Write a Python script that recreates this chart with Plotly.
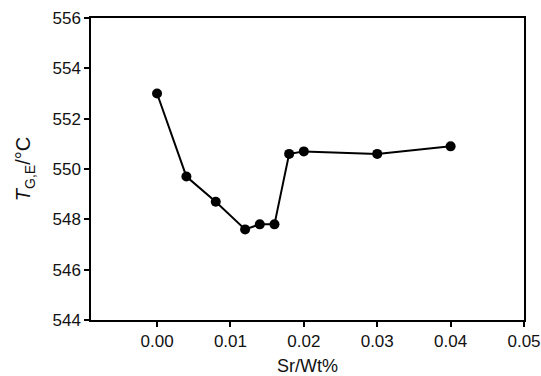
import plotly.graph_objects as go

sr = [0.000, 0.004, 0.008, 0.012, 0.014, 0.016, 0.018, 0.020, 0.030, 0.040]
temp = [553.0, 549.7, 548.7, 547.6, 547.8, 547.8, 550.6, 550.7, 550.6, 550.9]
x_ticks = [0.00, 0.01, 0.02, 0.03, 0.04, 0.05]
y_ticks = [544, 546, 548, 550, 552, 554, 556]

fig = go.Figure(go.Scatter(
    x=sr, y=temp, mode="lines+markers",
    line=dict(color="black", width=2),
    marker=dict(color="black", size=10),
))

fam = "Liberation Sans, Arial, sans-serif"
txt = "#111111"
fig.update_layout(
    width=541, height=376,
    margin=dict(l=91, r=17, t=18, b=56, autoexpand=False),
    paper_bgcolor="white", plot_bgcolor="white",
    showlegend=False, font=dict(family=fam, color=txt, size=17),
)
fig.update_xaxes(
    range=[-0.009, 0.05], tickvals=x_ticks, ticktext=[f"{v:.2f}" for v in x_ticks],
    ticks="outside", ticklen=5, tickwidth=1.5, tickcolor="black",
    showline=True, linecolor="black", linewidth=1.5, mirror=True, automargin=False,
    showgrid=False, zeroline=False, tickfont=dict(family=fam, size=17, color=txt),
    title=dict(text="Sr/Wt%", standoff=16, font=dict(family=fam, size=18, color=txt)),
)
fig.update_yaxes(
    range=[544, 556], tickvals=y_ticks,
    ticks="outside", ticklen=5, tickwidth=1.5, tickcolor="black",
    showline=True, linecolor="black", linewidth=1.5, mirror=True, automargin=False,
    showgrid=False, zeroline=False, tickfont=dict(family=fam, size=17, color=txt),
    title=dict(text="<i>T</i><sub>G,E</sub>/°C", standoff=16, font=dict(family=fam, size=20, color=txt)),
)
fig.write_html("out.html")
